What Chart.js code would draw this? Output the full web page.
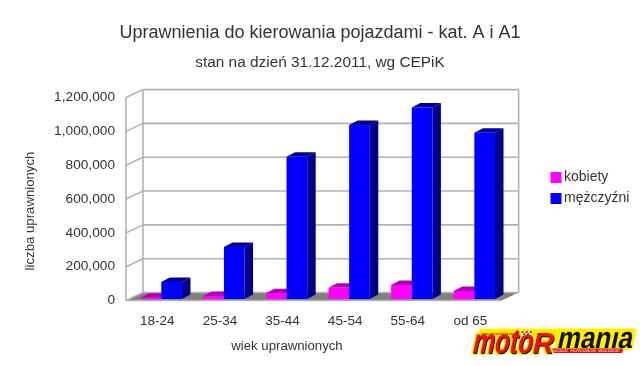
<!DOCTYPE html>
<html>
<head>
<meta charset="utf-8">
<style>
  html, body { margin: 0; padding: 0; background: #fff; }
  canvas { display: block; }
</style>
<script src="https://cdn.jsdelivr.net/npm/chart.js@4"></script>
</head>
<body>
<canvas id="wykres" width="640" height="366"></canvas>
<script>
const grupyWieku = ['18-24', '25-34', '35-44', '45-54', '55-64', 'od 65'];
const kobiety = [17000, 27000, 43000, 76000, 92000, 56000];
const mezczyzni = [110000, 317000, 850000, 1038000, 1142000, 992000];

const tytul = 'Uprawnienia do kierowania pojazdami - kat. A i A1';
const podtytul = 'stan na dzień 31.12.2011, wg CEPiK';
const tytulY = 'liczba uprawnionych';
const tytulX = 'wiek uprawnionych';

const kolorTekstu = '#333333';
const czcionka = '"Liberation Sans", Arial, sans-serif';

// glebokosc "3D" - sciany wykresu i slupki
const sciana = { dx: 17, dy: -8 };
const slupek = { dx: 8.5, dy: -4.5 };
const przesuniecieSlupkow = 4;
const podniesienieSlupkow = 1.5;

function wielokat(ctx, punkty, kolor) {
    ctx.fillStyle = kolor;
    ctx.beginPath();
    punkty.forEach((p, i) => i ? ctx.lineTo(p[0], p[1]) : ctx.moveTo(p[0], p[1]));
    ctx.closePath();
    ctx.fill();
}

function linia(ctx, x1, y1, x2, y2) {
    ctx.beginPath();
    ctx.moveTo(x1, y1);
    ctx.lineTo(x2, y2);
    ctx.stroke();
}

const wykres3d = {
    id: 'wykres3d',
    afterLayout(chart) {
        // legenda stoi dalej w prawo niz wynika z ukladu
        const l = chart.legend;
        const w = l.right - l.left, h = l.bottom - l.top;
        l.left = 548; l.right = l.left + w;
        l.top = 188 - h / 2; l.bottom = l.top + h;
        // tytuly na srodku calej strony
        chart.boxes.filter(b => b.position === 'top').forEach(b => {
            b.left = 0; b.right = chart.width; b.width = chart.width;
        });
    },
    afterDatasetsUpdate(chart) {
        chart.getSortedVisibleDatasetMetas().forEach(meta => {
            meta.data.forEach(el => {
                el.x += przesuniecieSlupkow;
                el.base -= podniesienieSlupkow;
            });
        });
    },
    beforeDatasetsDraw(chart) {
        const ctx = chart.ctx;
        const a = chart.chartArea;
        const y = chart.scales.y;
        const d = sciana;
        ctx.save();

        // podloga
        wielokat(ctx, [
            [a.left, a.bottom], [a.right, a.bottom],
            [a.right + d.dx, a.bottom + d.dy], [a.left + d.dx, a.bottom + d.dy]
        ], '#808080');

        // siatka na scianach
        ctx.strokeStyle = '#b2b2b2';
        ctx.lineWidth = 1.6;
        y.ticks.forEach((t, i) => {
            const py = y.getPixelForTick(i);
            linia(ctx, a.left, py, a.left + d.dx, py + d.dy);
            linia(ctx, a.left + d.dx, py + d.dy, a.right + d.dx, py + d.dy);
        });
        linia(ctx, a.left, a.top, a.left, a.bottom);
        linia(ctx, a.left + d.dx, a.top + d.dy, a.left + d.dx, a.bottom + d.dy);
        linia(ctx, a.right + d.dx, a.top + d.dy, a.right + d.dx, a.bottom + d.dy);
        linia(ctx, a.left, a.bottom, a.right, a.bottom);

        // boki i wierzch slupkow
        const kolory = [['#b000b0', '#990099'], ['#000098', '#000088']];
        chart.getSortedVisibleDatasetMetas().forEach((meta, n) => {
            meta.data.forEach(el => {
                const l = el.x - el.width / 2, r = el.x + el.width / 2;
                const t = el.y, b = el.base;
                const s = slupek;
                wielokat(ctx, [[l, t], [r, t], [r + s.dx, t + s.dy], [l + s.dx, t + s.dy]], kolory[n][0]);
                wielokat(ctx, [[r, t], [r + s.dx, t + s.dy], [r + s.dx, b + s.dy], [r, b]], kolory[n][1]);
            });
        });
        ctx.restore();
    },
    afterDraw(chart) {
        const ctx = chart.ctx;
        ctx.save();
        ctx.fillStyle = kolorTekstu;
        ctx.textAlign = 'center';
        ctx.textBaseline = 'middle';
        ctx.font = '13.2px ' + czcionka;
        ctx.fillText(tytulX, 287, 346);
        ctx.translate(30, 211);
        ctx.rotate(-Math.PI / 2);
        ctx.fillText(tytulY, 0, 0);
        ctx.restore();
        logo(ctx);
    }
};

function logo(ctx) {
    ctx.save();
    ctx.textAlign = 'left';
    ctx.textBaseline = 'alphabetic';
    ctx.lineJoin = 'round';
    // pochylenie wokol y=340, x zostaje prawdziwy w tej linii
    ctx.setTransform(1, 0, -0.22, 1, 0.22 * 340, 0);

    const zolty = '#ffee00';

    // tlo pod napisem
    ctx.shadowColor = zolty;
    ctx.shadowBlur = 3;
    ctx.fillStyle = zolty;
    ctx.fillRect(478, 329, 80, 8);
    ctx.fillRect(556, 329, 78, 20);
    ctx.shadowBlur = 0;

    const napis = (tekst, x, y, rozmiar, szer, kolor, obrys) => {
        ctx.font = 'bold ' + rozmiar + 'px ' + czcionka;
        if (obrys) {
            ctx.lineWidth = obrys;
            ctx.strokeStyle = zolty;
            ctx.strokeText(tekst, x, y, szer);
            ctx.fillStyle = '#111111';
            ctx.fillText(tekst, x + 1, y + 1, szer);
        }
        ctx.fillStyle = kolor;
        ctx.fillText(tekst, x, y, szer);
    };

    // pasek pod "mania"
    ctx.fillStyle = '#dd1111';
    ctx.fillRect(553, 348.5, 72, 4.5);
    ctx.fillStyle = '#ffffff';
    ctx.font = '3.5px ' + czcionka;
    ctx.fillText('WOLNOŚĆ   PROFESJONALIZM   NIEZALEŻNOŚĆ', 556, 352, 66);

    // "mania" bez kropki nad i
    ctx.save();
    ctx.beginPath();
    ctx.rect(550, 331, 90, 17);
    ctx.clip();
    napis('mania', 558, 347.5, 30, 75, '#111111', 0);
    ctx.restore();

    napis('moto', 474, 353, 35, 60, '#ee1111', 4);
    napis('R', 534, 353, 29, 23, '#ee1111', 4);

    // adres i szachownica na gorze
    ctx.fillStyle = '#cc1100';
    ctx.font = 'bold 4px ' + czcionka;
    ctx.fillText('www.motormania.com.pl', 480, 334.5, 38);
    for (let i = 0; i < 5; i++) {
        for (let j = 0; j < 2; j++) {
            ctx.fillStyle = (i + j) % 2 ? '#ffffff' : '#dd1111';
            ctx.fillRect(520 + i * 2, 331 + j * 2, 2, 2);
        }
    }
    ctx.restore();
}

new Chart(document.getElementById('wykres'), {
    type: 'bar',
    data: {
        labels: grupyWieku,
        datasets: [
            { label: 'kobiety', data: kobiety, backgroundColor: '#ff00ff', borderWidth: 0 },
            { label: 'mężczyźni', data: mezczyzni, backgroundColor: '#0000ff', borderWidth: 0 }
        ]
    },
    options: {
        responsive: false,
        animation: false,
        layout: { padding: { right: 47 } },
        datasets: { bar: { categoryPercentage: 0.66, barPercentage: 1 } },
        plugins: {
            title: {
                display: true, text: tytul, color: kolorTekstu,
                font: { family: czcionka, size: 18, weight: 'normal' },
                padding: { top: 22, bottom: 9.5 }
            },
            subtitle: {
                display: true, text: podtytul, color: kolorTekstu,
                font: { family: czcionka, size: 15.4, weight: 'normal' },
                padding: { top: 0, bottom: 26 }
            },
            legend: {
                position: 'right',
                labels: {
                    color: kolorTekstu,
                    font: { family: czcionka, size: 14 },
                    usePointStyle: true, pointStyle: 'rect',
                    boxWidth: 2, boxHeight: 11, padding: 7
                }
            },
            tooltip: { enabled: false }
        },
        scales: {
            x: {
                grid: { display: false, drawTicks: false },
                border: { display: false },
                ticks: { color: kolorTekstu, font: { family: czcionka, size: 13.5 }, padding: 12.5, maxRotation: 0 },
                afterFit(s) { s.height = 65.5; }
            },
            y: {
                min: 0, max: 1200000,
                grid: { display: false, drawTicks: false },
                border: { display: false },
                ticks: {
                    stepSize: 200000, color: kolorTekstu, padding: 11,
                    font: { family: czcionka, size: 13.7 },
                    callback: v => v.toLocaleString('en-US')
                },
                afterFit(s) { s.width = 126; }
            }
        }
    },
    plugins: [wykres3d]
});
</script>
</body>
</html>
